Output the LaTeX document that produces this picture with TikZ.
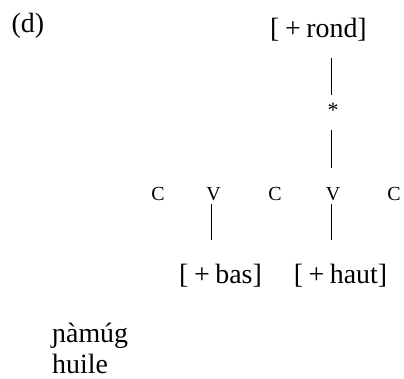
\documentclass[tikz,border=0pt]{standalone}
\usepackage{fontspec}
\setmainfont{Liberation Serif}
\newcommand{\fsp}{\hspace{0.2em}}
\begin{document}
\begin{tikzpicture}[x=1bp,y=-1bp,
  big/.style={font=\fontsize{28}{32}\selectfont, inner sep=0pt, anchor=base},
  seg/.style={font=\fontsize{20}{24}\selectfont, inner sep=0pt, anchor=base},
  assoc/.style={line width=0.9bp}]
\useasboundingbox (0,0) rectangle (404,379);
% labels
\node[big, anchor=base west] (lab) at (11.5,32) {(d)};
\node[big] (rond) at (318.5,37) {[\fsp+\fsp rond]};
\node[font=\fontsize{22}{26}\selectfont, inner sep=0pt] (star) at (333,110) {*};
% skeleton
\node[seg] (c1) at (158,200) {C};
\node[seg] (v1) at (213.5,200) {V};
\node[seg] (c2) at (275,200) {C};
\node[seg] (v2) at (333,200) {V};
\node[seg] (c3) at (394,200) {C};
% features
\node[big] (bas) at (220.5,283) {[\fsp+\fsp bas]};
\node[big] (haut) at (340.5,283) {[\fsp+\fsp haut]};
% gloss
\node[big, anchor=base west] (word) at (52,342) {ɲàmúg};
\node[big, anchor=base west] (gloss) at (52,373) {huile};
% connector ends
\coordinate (r1) at (331,58);
\coordinate (r2) at (331,95);
\coordinate (r3) at (331,130);
\coordinate (r4) at (331,168);
\coordinate (b1) at (211,204);
\coordinate (b2) at (211,240);
\coordinate (h1) at (331,204);
\coordinate (h2) at (331,240);
\draw[assoc] (r1) -- (r2);
\draw[assoc] (r3) -- (r4);
\draw[assoc] (b1) -- (b2);
\draw[assoc] (h1) -- (h2);
\end{tikzpicture}
\end{document}
